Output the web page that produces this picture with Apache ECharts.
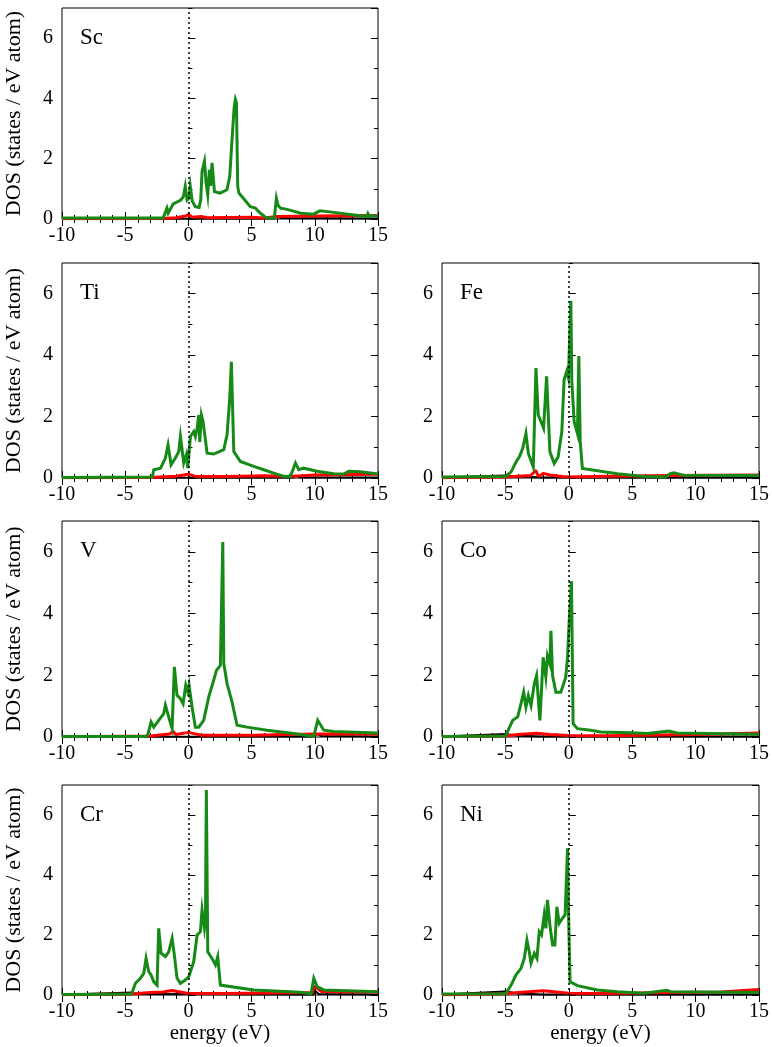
<!DOCTYPE html>
<html lang="en">
<head>
    <meta charset="UTF-8">
    <title>DOS</title>
    <script src="https://cdn.jsdelivr.net/npm/echarts@6/dist/echarts.min.js"></script>
    <style>
        html, body { margin: 0; padding: 0; background: #fff; }
        #chart { width: 772px; height: 1047px; }
    </style>
</head>
<body>
    <div id="chart"></div>
    <script>
        // x axis ticks (eV) and y axis ticks (states / eV atom)
        const xTicks = [-10, -5, 0, 5, 10, 15];
        const yTicks = [0, 2, 4, 6];

        // total DOS (green), [energy, dos]
        const scTotal = [[-10,0.03],[-2.0,0.03],[-1.9,0.05],[-1.7,0.36],[-1.6,0.2],[-1.2,0.5],[-0.6,0.63],[-0.4,0.74],[-0.25,1.08],[-0.1,0.63],[0.05,0.7],[0.15,1.08],[0.3,0.6],[0.55,0.41],[0.85,0.38],[0.98,0.65],[1.08,1.58],[1.27,1.91],[1.4,1.2],[1.53,0.8],[1.66,1.63],[1.75,1.1],[1.87,1.86],[2.06,0.91],[2.5,0.86],[3.05,0.97],[3.27,1.41],[3.45,2.63],[3.62,3.7],[3.72,3.97],[3.8,3.86],[3.9,1.08],[4.0,0.86],[4.9,0.41],[5.3,0.36],[5.7,0.19],[6.2,0.03],[6.8,0.03],[6.96,0.69],[7.1,0.45],[7.3,0.36],[7.8,0.32],[8.9,0.19],[9.9,0.16],[10.4,0.27],[11.5,0.22],[13.1,0.13],[14.1,0.08],[14.2,0.18],[14.3,0.1],[15,0.1]];
        const tiTotal = [[-10,0.02],[-2.85,0.03],[-2.74,0.27],[-2.2,0.32],[-1.82,0.65],[-1.61,1.08],[-1.37,0.43],[-1.03,0.65],[-0.76,0.86],[-0.63,1.35],[-0.37,0.49],[-0.16,0.76],[-0.05,0.32],[0.16,1.35],[0.42,1.51],[0.55,1.35],[0.69,1.62],[0.82,2.05],[0.9,1.17],[1.03,2.05],[1.16,1.84],[1.48,0.81],[2.0,0.78],[2.8,0.92],[3.06,1.41],[3.27,2.59],[3.4,3.78],[3.59,0.86],[4.11,0.54],[5.17,0.38],[5.96,0.27],[6.75,0.16],[7.54,0.05],[8.07,0.05],[8.47,0.49],[8.73,0.27],[9.12,0.32],[10.18,0.22],[11.5,0.14],[12.3,0.13],[12.68,0.22],[13.6,0.2],[15,0.13]];
        const feTotal = [[-10,0.03],[-5.0,0.05],[-4.55,0.2],[-4.16,0.52],[-3.9,0.69],[-3.64,0.96],[-3.38,1.45],[-3.19,0.8],[-3.04,0.74],[-2.8,0.36],[-2.59,3.58],[-2.41,2.05],[-2.2,1.84],[-1.99,1.62],[-1.75,3.31],[-1.49,0.85],[-1.15,0.47],[-0.84,0.69],[-0.55,1.51],[-0.37,3.2],[-0.16,3.48],[-0.03,3.26],[0.16,5.77],[0.24,3.15],[0.42,1.84],[0.68,1.45],[0.79,3.97],[0.9,1.2],[1.07,0.31],[1.2,0.3],[3.82,0.14],[5.92,0.05],[7.62,0.03],[8.0,0.14],[8.27,0.17],[9.05,0.09],[15,0.08]];
        const vTotal = [[-10,0.02],[-3.3,0.02],[-3.19,0.11],[-2.95,0.49],[-2.74,0.32],[-2.35,0.54],[-1.95,0.76],[-1.82,1.03],[-1.56,0.65],[-1.29,0.27],[-1.11,2.27],[-0.9,1.35],[-0.63,1.24],[-0.42,1.08],[-0.21,1.68],[-0.05,1.46],[0.05,1.68],[0.29,0.97],[0.55,0.32],[0.82,0.32],[1.21,0.54],[1.61,1.3],[2.0,1.84],[2.22,2.16],[2.53,2.32],[2.68,2.3],[2.72,6.32],[2.8,2.38],[3.06,1.73],[3.45,1.14],[3.59,1.08],[3.85,0.38],[4.64,0.32],[6.22,0.22],[8.33,0.11],[9.92,0.02],[10.23,0.54],[10.71,0.22],[11.5,0.18],[15,0.13]];
        const coTotal = [[-10,0.02],[-5.0,0.03],[-4.87,0.05],[-4.42,0.54],[-4.03,0.65],[-3.77,1.08],[-3.56,1.45],[-3.38,0.97],[-3.19,1.34],[-2.98,1.02],[-2.72,1.72],[-2.54,1.99],[-2.28,0.54],[-2.02,2.58],[-1.81,1.94],[-1.68,2.63],[-1.49,2.37],[-1.41,3.44],[-1.28,1.99],[-1.02,1.45],[-0.63,1.45],[-0.24,1.94],[-0.1,2.58],[0.03,3.76],[0.21,5.05],[0.34,0.43],[0.68,0.27],[1.73,0.22],[2.51,0.16],[4.87,0.14],[6.18,0.11],[7.88,0.19],[8.53,0.13],[15,0.09]];
        const crTotal = [[-10,0.02],[-4.5,0.03],[-4.38,0.06],[-4.19,0.39],[-3.8,0.56],[-3.53,0.72],[-3.35,1.22],[-3.14,0.78],[-2.95,0.67],[-2.74,0.44],[-2.48,0.33],[-2.35,2.22],[-2.16,1.39],[-1.82,1.28],[-1.56,1.44],[-1.29,1.89],[-1.11,1.33],[-0.9,0.56],[-0.63,0.39],[-0.24,0.5],[0.03,0.61],[0.42,1.11],[0.69,2.0],[0.95,2.11],[1.08,2.83],[1.27,2.22],[1.35,2.5],[1.42,6.83],[1.53,1.44],[1.87,1.22],[2.14,1.0],[2.32,1.28],[2.53,0.33],[2.66,0.3],[5.17,0.17],[8.86,0.09],[9.7,0.04],[9.92,0.56],[10.18,0.28],[10.71,0.17],[15,0.11]];
        const niTotal = [[-10,0.03],[-5.2,0.04],[-4.95,0.06],[-4.55,0.33],[-4.16,0.67],[-3.77,0.89],[-3.51,1.22],[-3.3,1.83],[-3.12,1.44],[-2.98,1.06],[-2.72,1.39],[-2.51,1.22],[-2.33,2.11],[-2.15,2.0],[-1.94,2.67],[-1.81,2.22],[-1.68,3.17],[-1.49,2.33],[-1.28,1.67],[-1.1,1.67],[-0.94,2.94],[-0.76,2.39],[-0.5,2.56],[-0.29,2.67],[-0.1,4.89],[-0.03,2.89],[0.1,0.44],[0.68,0.31],[2.25,0.17],[3.82,0.11],[5.92,0.06],[7.75,0.16],[8.0,0.11],[15,0.08]];

        // small contributions near zero (red)
        const scRed = [[-10,0.01],[-2,0.02],[-1,0.04],[-0.2,0.1],[0,0.15],[0.3,0.06],[1,0.08],[1.5,0.04],[3,0.05],[5,0.06],[6,0.03],[7,0.08],[10,0.1],[15,0.12]];
        const tiRed = [[-10,0.01],[-3,0.02],[-1,0.06],[0,0.12],[0.5,0.06],[3,0.05],[6,0.07],[8,0.05],[10,0.1],[15,0.12]];
        const feRed = [[-10,0.01],[-5,0.03],[-3,0.08],[-2.6,0.25],[-2.4,0.05],[-2,0.15],[-1.5,0.1],[-0.5,0.05],[0,0.03],[2,0.05],[8,0.08],[15,0.1]];
        const vRed = [[-10,0.01],[-3,0.03],[-1.5,0.1],[-1.2,0.18],[-1,0.08],[0,0.15],[1,0.06],[5,0.06],[10,0.1],[15,0.1]];
        const coRed = [[-10,0.01],[-5,0.03],[-4,0.08],[-2.5,0.12],[-1.5,0.08],[0,0.05],[3,0.04],[10,0.08],[15,0.13]];
        const crRed = [[-10,0.01],[-4.5,0.03],[-3,0.08],[-2,0.1],[-1.3,0.15],[0,0.05],[3,0.05],[9.8,0.08],[10,0.3],[10.5,0.12],[15,0.1]];
        const niRed = [[-10,0.01],[-5,0.04],[-4,0.08],[-2,0.14],[0,0.06],[3,0.05],[8,0.08],[12,0.1],[15,0.18]];

        // black curve, almost flat on the axis
        const scBlack = [[-10,0.01],[6.8,0.02],[7,0.1],[7.3,0.03],[15,0.02]];
        const tiBlack = [[-10,0.01],[8.3,0.02],[8.5,0.08],[8.8,0.02],[15,0.02]];
        const feBlack = [[-10,0.02],[-5,0.08],[-4,0.05],[-2,0.02],[15,0.02]];
        const vBlack = [[-10,0.01],[9.9,0.02],[10.2,0.1],[10.5,0.03],[15,0.02]];
        const coBlack = [[-10,0.02],[-5,0.1],[-4,0.04],[-2,0.02],[15,0.02]];
        const crBlack = [[-10,0.01],[-4.5,0.08],[-4,0.03],[9.9,0.02],[10,0.15],[10.3,0.03],[15,0.02]];
        const niBlack = [[-10,0.02],[-5,0.12],[-4,0.05],[-2,0.02],[15,0.02]];

        const panels = [
            {name: 'Sc', total: scTotal, red: scRed, black: scBlack},
            {name: 'Ti', total: tiTotal, red: tiRed, black: tiBlack},
            {name: 'Fe', total: feTotal, red: feRed, black: feBlack},
            {name: 'V',  total: vTotal,  red: vRed,  black: vBlack},
            {name: 'Co', total: coTotal, red: coRed, black: coBlack},
            {name: 'Cr', total: crTotal, red: crRed, black: crBlack},
            {name: 'Ni', total: niTotal, red: niRed, black: niBlack}
        ];

        // [left, top, width, height, leftColumn, bottomRow]
        const boxes = [
            [62, 8, 316, 211, true, false],
            [62, 263, 316, 215, true, false],
            [442, 263, 319, 215, false, false],
            [62, 521, 316, 216, true, false],
            [442, 521, 319, 216, false, false],
            [62, 785, 316, 210, true, true],
            [442, 785, 319, 210, false, true]
        ];

        const font = '"Liberation Serif", "DejaVu Serif", serif';
        const green = '#168a16';

        const grid = [], xAxis = [], yAxis = [], series = [], title = [];

        panels.forEach((p, i) => {
            const b = boxes[i];
            grid.push({left: b[0], top: b[1], width: b[2], height: b[3],
                show: true, borderColor: '#000', borderWidth: 1, backgroundColor: 'transparent'});
            title.push({text: p.name, left: b[0] + 13, top: b[1] + 13,
                textStyle: {fontFamily: font, fontSize: 23, fontWeight: 'normal', color: '#000'}});

            ['bottom', 'top'].forEach(pos => {
                xAxis.push({
                    type: 'value', gridIndex: i, position: pos,
                    min: xTicks[0], max: xTicks[xTicks.length - 1], interval: 5,
                    axisLine: {show: false},
                    axisTick: {show: true, inside: true, length: 7, lineStyle: {color: '#000', width: 1}},
                    minorTick: {show: true, splitNumber: 5, length: 4, lineStyle: {color: '#000', width: 1}},
                    splitLine: {show: false},
                    axisLabel: {show: pos === 'bottom', color: '#000', fontFamily: font, fontSize: 20, margin: 7},
                    name: (pos === 'bottom' && b[5]) ? 'energy (eV)' : '',
                    nameLocation: 'middle', nameGap: 27,
                    nameTextStyle: {color: '#000', fontFamily: font, fontSize: 21}
                });
            });

            ['left', 'right'].forEach(pos => {
                // labelled axis with ticks at the even values
                yAxis.push({
                    type: 'value', gridIndex: i, position: pos,
                    min: 0, max: 7, interval: 2,
                    axisLine: {show: false},
                    axisTick: {show: true, inside: true, length: 7, lineStyle: {color: '#000', width: 1}},
                    splitLine: {show: false},
                    axisLabel: {show: pos === 'left', showMaxLabel: false, color: '#000',
                        fontFamily: font, fontSize: 20, margin: 9,
                        formatter: v => yTicks.includes(v) ? String(v) : ''},
                    name: (pos === 'left' && b[4]) ? 'DOS (states / eV atom)' : '',
                    nameLocation: 'middle', nameGap: 37,
                    nameTextStyle: {color: '#000', fontFamily: font, fontSize: 22}
                });
                // short ticks at every unit
                yAxis.push({
                    type: 'value', gridIndex: i, position: pos,
                    min: 0, max: 7, interval: 1,
                    axisLine: {show: false},
                    axisTick: {show: true, inside: true, length: 4, lineStyle: {color: '#000', width: 1}},
                    splitLine: {show: false},
                    axisLabel: {show: false}
                });
            });

            const xi = i * 2, yi = i * 4;
            series.push({
                type: 'line', xAxisIndex: xi, yAxisIndex: yi, data: p.black,
                showSymbol: false, silent: true, animation: false,
                lineStyle: {color: '#000', width: 2},
                markLine: {
                    silent: true, symbol: ['none', 'none'], label: {show: false}, animation: false,
                    lineStyle: {color: '#000', type: [2, 3], width: 1.5},
                    data: [{xAxis: 0}]
                }
            });
            series.push({
                type: 'line', xAxisIndex: xi, yAxisIndex: yi, data: p.red,
                showSymbol: false, silent: true, animation: false,
                lineStyle: {color: '#ff0000', width: 3}
            });
            series.push({
                type: 'line', xAxisIndex: xi, yAxisIndex: yi, data: p.total,
                showSymbol: false, silent: true, animation: false,
                lineStyle: {color: green, width: 3, join: 'miter'}
            });
        });

        const myChart = echarts.init(document.getElementById('chart'));
        myChart.setOption({
            animation: false,
            backgroundColor: '#fff',
            title: title,
            grid: grid,
            xAxis: xAxis,
            yAxis: yAxis,
            series: series
        });
    </script>
</body>
</html>
